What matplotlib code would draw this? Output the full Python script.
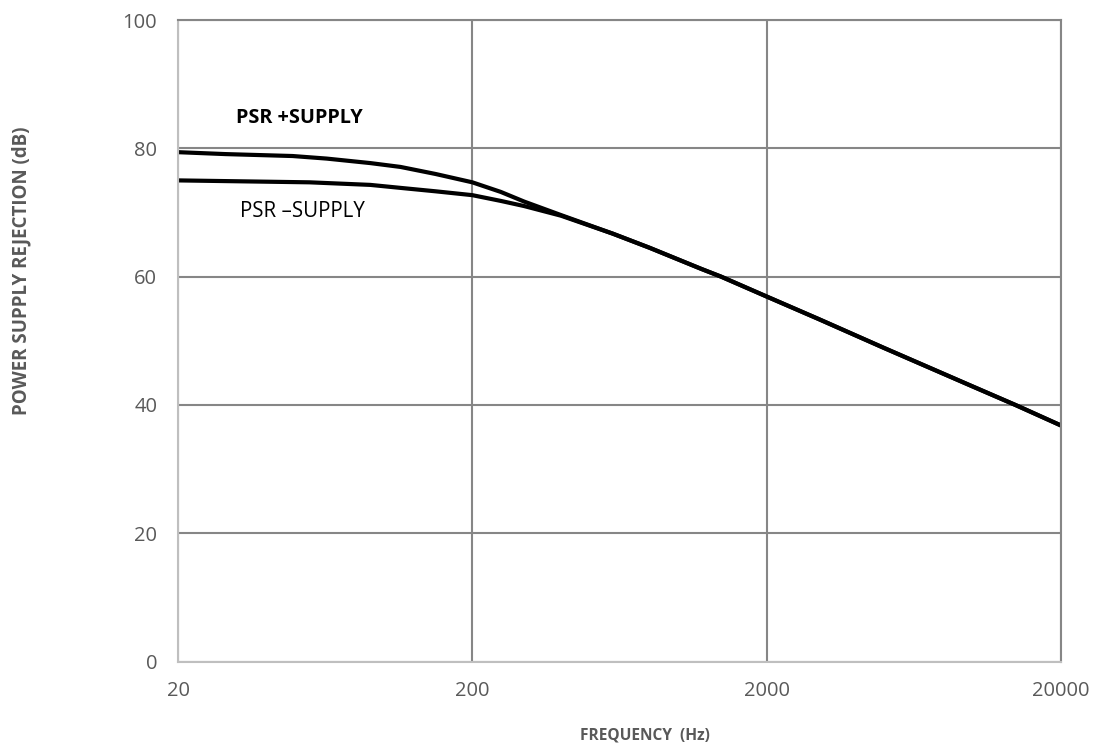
import matplotlib
matplotlib.use('Agg')
import matplotlib.pyplot as plt
import numpy as np

# values
freq_pos = [20, 29, 49, 64, 90, 114, 150, 200, 250, 300, 400, 600, 800, 1200, 1400, 2000, 3000, 5000, 10000, 14000, 20000]
psr_pos = [79.4, 79.1, 78.8, 78.4, 77.7, 77.1, 76.0, 74.7, 73.2, 71.7, 69.6, 66.7, 64.5, 61.2, 60.0, 56.9, 53.4, 48.9, 42.9, 40.0, 36.8]

freq_neg = [20, 56, 90, 116, 150, 200, 250, 300, 400, 600, 800, 1200, 1400, 2000, 3000, 5000, 10000, 14000, 20000]
psr_neg = [75.0, 74.7, 74.3, 73.8, 73.3, 72.7, 71.8, 71.0, 69.5, 66.7, 64.5, 61.2, 60.0, 56.9, 53.4, 48.9, 42.9, 40.0, 36.8]

xticks = [20, 200, 2000, 20000]
yticks = [0, 20, 40, 60, 80, 100]

plt.rcParams['font.family'] = ['Open Sans', 'DejaVu Sans']

W, H = 1097, 749
fig = plt.figure(figsize=(W / 100, H / 100), dpi=100)
ax = fig.add_axes([178 / W, 1 - 661.6 / H, 883 / W, 641.6 / H])

ax.semilogx(freq_pos, psr_pos, color='black', lw=3)
ax.semilogx(freq_neg, psr_neg, color='black', lw=3)

ax.set_xlim(20, 20000)
ax.set_ylim(0, 100)
ax.set_xticks(xticks)
ax.set_xticklabels([str(t) for t in xticks])
ax.xaxis.set_minor_locator(matplotlib.ticker.NullLocator())
ax.set_yticks(yticks)

ax.grid(True, which='major', color='#868686', lw=1.5)
ax.set_axisbelow(True)
for s in ['top', 'right']:
    ax.spines[s].set_color('#868686')
    ax.spines[s].set_linewidth(1.5)
for s in ['left', 'bottom']:
    ax.spines[s].set_color('#bfbfbf')
    ax.spines[s].set_linewidth(1.5)

ax.tick_params(axis='both', length=0, labelsize=14.5, labelcolor='#595959')
ax.tick_params(axis='x', pad=14)
ax.tick_params(axis='y', pad=15)

fig.text(645 / W, 1 - 735 / H, 'FREQUENCY  (Hz)', fontsize=11.2, fontweight='bold',
         color='#595959', ha='center', va='center')
fig.text(21 / W, 1 - 270.5 / H, 'POWER SUPPLY REJECTION (dB)', fontsize=13.5, fontweight='bold',
         color='#595959', ha='center', va='center', rotation=90)

ax.text(51.5, 84.8, 'PSR +SUPPLY', fontsize=14.3, fontweight='bold', color='black', ha='center', va='center')
ax.text(53, 70.2, 'PSR \u2013SUPPLY', fontsize=14.8, color='black', ha='center', va='center')

fig.savefig('out.png', dpi=100)
